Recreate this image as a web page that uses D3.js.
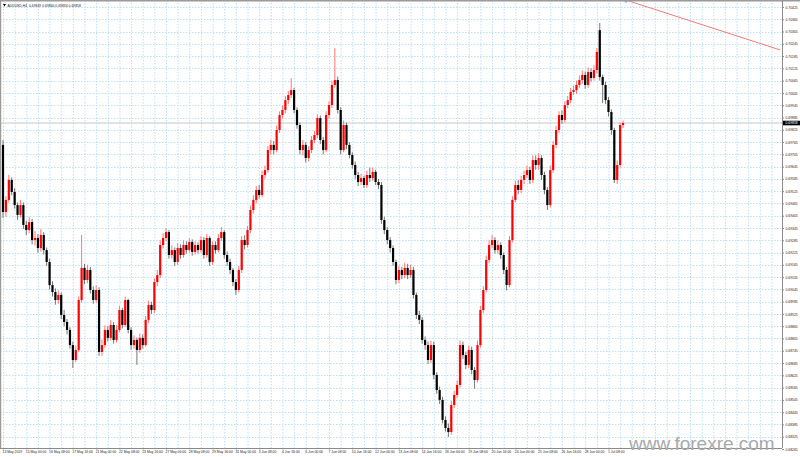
<!DOCTYPE html>
<html><head><meta charset="utf-8">
<script src="https://cdn.jsdelivr.net/npm/d3@7"></script>
<style>body{margin:0;background:#fff;overflow:hidden}svg{display:block}</style>
</head><body>
<svg id="chart" width="800" height="457"></svg>
<script>
const titleText = "AUDUSD,H4  0.69849 0.69860 0.69834 0.69858";
const timeLabels = ["13 May 2019","15 May 00:00","16 May 08:00","17 May 16:00","21 May 00:00","22 May 08:00","23 May 16:00","27 May 00:00","28 May 08:00","29 May 16:00","31 May 00:00","3 Jun 08:00","4 Jun 16:00","6 Jun 00:00","7 Jun 08:00","10 Jun 16:00","12 Jun 00:00","13 Jun 08:00","14 Jun 16:00","18 Jun 00:00","19 Jun 08:00","20 Jun 16:00","24 Jun 00:00","25 Jun 08:00","26 Jun 16:00","28 Jun 00:00","1 Jul 08:00"];
const priceTicks = [0.70425,0.70365,0.70305,0.70245,0.70185,0.70125,0.70065,0.70005,0.69945,0.69885,0.69825,0.69765,0.69705,0.69645,0.69585,0.69525,0.69465,0.69405,0.69345,0.69285,0.69225,0.69165,0.69105,0.69045,0.68985,0.68925,0.68865,0.68805,0.68745,0.68685,0.68625,0.68565,0.68505,0.68445,0.68385,0.68325,0.68265];
const lastPrice = 0.69858;
const open = [0.69751,0.69423,0.69482,0.69580,0.69521,0.69457,0.69409,0.69457,0.69360,0.69335,
0.69374,0.69286,0.69296,0.69247,0.69311,0.69237,0.69179,0.69066,0.69032,0.68993,
0.69018,0.68920,0.68886,0.68847,0.68773,0.68700,0.68749,0.68993,0.69150,0.69091,
0.69140,0.69042,0.68993,0.69042,0.68739,0.68773,0.68847,0.68808,0.68871,0.68798,
0.68847,0.68944,0.68871,0.68993,0.68847,0.68773,0.68798,0.68749,0.68808,0.68773,
0.68896,0.68969,0.68944,0.69081,0.69115,0.69262,0.69296,0.69325,0.69213,0.69237,
0.69179,0.69247,0.69213,0.69262,0.69237,0.69277,0.69228,0.69262,0.69237,0.69286,
0.69213,0.69296,0.69179,0.69262,0.69237,0.69296,0.69325,0.69213,0.69179,0.69140,
0.69081,0.69042,0.69140,0.69286,0.69262,0.69335,0.69433,0.69482,0.69531,0.69506,
0.69604,0.69628,0.69726,0.69751,0.69726,0.69824,0.69897,0.69922,0.69970,0.69995,
0.70019,0.69922,0.69848,0.69726,0.69751,0.69687,0.69726,0.69775,0.69799,0.69882,
0.69775,0.69726,0.69897,0.69946,0.70044,0.70068,0.69922,0.69726,0.69848,0.69751,
0.69702,0.69653,0.69604,0.69570,0.69589,0.69555,0.69604,0.69589,0.69619,0.69570,
0.69555,0.69384,0.69335,0.69286,0.69247,0.69179,0.69091,0.69140,0.69115,0.69150,
0.69115,0.69140,0.69018,0.68920,0.68896,0.68798,0.68773,0.68700,0.68773,0.68627,
0.68553,0.68505,0.68407,0.68368,0.68348,0.68480,0.68529,0.68578,0.68773,0.68724,
0.68676,0.68749,0.68651,0.68602,0.68773,0.68944,0.69042,0.69189,0.69262,0.69286,
0.69237,0.69262,0.69213,0.69140,0.69066,0.69286,0.69482,0.69555,0.69531,0.69580,
0.69604,0.69628,0.69580,0.69677,0.69653,0.69687,0.69604,0.69531,0.69457,0.69628,
0.69751,0.69824,0.69897,0.69873,0.69946,0.69970,0.70010,0.70019,0.70044,0.70068,
0.70093,0.70044,0.70107,0.70078,0.70117,0.70312,0.70083,0.70044,0.69970,0.69912,
0.69824,0.69580,0.69653,0.69848];
const high = [0.69775,0.69500,0.69605,0.69592,0.69540,0.69470,0.69482,0.69470,0.69380,0.69400,
0.69390,0.69330,0.69315,0.69340,0.69325,0.69250,0.69195,0.69085,0.69050,0.69040,
0.69030,0.68945,0.68900,0.68860,0.68790,0.68770,0.69010,0.69311,0.69170,0.69165,
0.69155,0.69060,0.69065,0.69055,0.68800,0.68870,0.68865,0.68895,0.68885,0.68870,
0.68965,0.68955,0.69010,0.69000,0.68860,0.68820,0.68810,0.68830,0.68825,0.68915,
0.68990,0.68985,0.69100,0.69140,0.69285,0.69320,0.69345,0.69335,0.69260,0.69250,
0.69270,0.69265,0.69285,0.69280,0.69295,0.69290,0.69280,0.69275,0.69305,0.69300,
0.69315,0.69305,0.69280,0.69280,0.69315,0.69350,0.69335,0.69230,0.69195,0.69150,
0.69095,0.69160,0.69305,0.69310,0.69355,0.69455,0.69505,0.69550,0.69555,0.69625,
0.69650,0.69745,0.69775,0.69770,0.69845,0.69915,0.69945,0.69990,0.70015,0.70078,
0.70030,0.69935,0.69860,0.69775,0.69765,0.69745,0.69795,0.69820,0.69900,0.69895,
0.69790,0.69915,0.69965,0.70065,0.70224,0.70085,0.69935,0.69870,0.69860,0.69765,
0.69715,0.69670,0.69620,0.69610,0.69600,0.69625,0.69640,0.69640,0.69630,0.69585,
0.69570,0.69400,0.69350,0.69300,0.69260,0.69190,0.69160,0.69155,0.69175,0.69170,
0.69165,0.69155,0.69030,0.68940,0.68910,0.68815,0.68790,0.68795,0.68790,0.68640,
0.68570,0.68520,0.68425,0.68390,0.68500,0.68550,0.68600,0.68795,0.68790,0.68740,
0.68770,0.68765,0.68665,0.68795,0.68965,0.69060,0.69210,0.69285,0.69310,0.69300,
0.69285,0.69275,0.69225,0.69155,0.69305,0.69500,0.69575,0.69580,0.69600,0.69625,
0.69650,0.69645,0.69700,0.69700,0.69710,0.69700,0.69620,0.69545,0.69650,0.69770,
0.69845,0.69915,0.69920,0.69965,0.69990,0.70030,0.70040,0.70065,0.70090,0.70115,
0.70110,0.70130,0.70125,0.70140,0.70225,0.70347,0.70095,0.70060,0.69985,0.69925,
0.69835,0.69675,0.69860,0.69870];
const low = [0.69395,0.69400,0.69470,0.69505,0.69440,0.69385,0.69395,0.69340,0.69310,0.69320,
0.69265,0.69260,0.69225,0.69230,0.69215,0.69160,0.69045,0.69010,0.68970,0.68975,
0.68900,0.68865,0.68825,0.68755,0.68661,0.68690,0.68740,0.68980,0.69070,0.69075,
0.69025,0.68975,0.68980,0.68720,0.68720,0.68760,0.68790,0.68795,0.68780,0.68785,
0.68835,0.68855,0.68860,0.68830,0.68750,0.68755,0.68676,0.68735,0.68755,0.68765,
0.68880,0.68925,0.68930,0.69060,0.69100,0.69245,0.69280,0.69195,0.69195,0.69160,
0.69165,0.69195,0.69200,0.69220,0.69225,0.69210,0.69215,0.69220,0.69225,0.69195,
0.69200,0.69160,0.69165,0.69220,0.69225,0.69280,0.69195,0.69160,0.69120,0.69060,
0.69018,0.69030,0.69125,0.69240,0.69250,0.69320,0.69415,0.69465,0.69490,0.69495,
0.69585,0.69615,0.69705,0.69705,0.69715,0.69810,0.69880,0.69905,0.69950,0.69980,
0.69905,0.69830,0.69705,0.69700,0.69665,0.69670,0.69710,0.69760,0.69785,0.69755,
0.69705,0.69715,0.69880,0.69930,0.70030,0.69905,0.69705,0.69715,0.69730,0.69685,
0.69635,0.69585,0.69550,0.69555,0.69540,0.69540,0.69570,0.69575,0.69555,0.69535,
0.69365,0.69315,0.69265,0.69225,0.69160,0.69070,0.69075,0.69095,0.69100,0.69095,
0.69100,0.69000,0.68900,0.68875,0.68780,0.68750,0.68680,0.68685,0.68605,0.68535,
0.68485,0.68390,0.68350,0.68324,0.68335,0.68465,0.68515,0.68565,0.68705,0.68655,
0.68660,0.68630,0.68560,0.68590,0.68760,0.68930,0.69030,0.69175,0.69245,0.69220,
0.69220,0.69195,0.69120,0.69040,0.69055,0.69275,0.69470,0.69510,0.69515,0.69560,
0.69590,0.69560,0.69565,0.69630,0.69630,0.69580,0.69510,0.69433,0.69445,0.69615,
0.69735,0.69810,0.69855,0.69860,0.69930,0.69955,0.69995,0.70000,0.70030,0.70050,
0.70025,0.70030,0.70060,0.70065,0.70100,0.70065,0.69955,0.69950,0.69890,0.69800,
0.69565,0.69560,0.69640,0.69834];
const close = [0.69423,0.69482,0.69580,0.69521,0.69457,0.69409,0.69457,0.69360,0.69335,0.69374,
0.69286,0.69296,0.69247,0.69311,0.69237,0.69179,0.69066,0.69032,0.68993,0.69018,
0.68920,0.68886,0.68847,0.68773,0.68700,0.68749,0.68993,0.69150,0.69091,0.69140,
0.69042,0.68993,0.69042,0.68739,0.68773,0.68847,0.68808,0.68871,0.68798,0.68847,
0.68944,0.68871,0.68993,0.68847,0.68773,0.68798,0.68749,0.68808,0.68773,0.68896,
0.68969,0.68944,0.69081,0.69115,0.69262,0.69296,0.69325,0.69213,0.69237,0.69179,
0.69247,0.69213,0.69262,0.69237,0.69277,0.69228,0.69262,0.69237,0.69286,0.69213,
0.69296,0.69179,0.69262,0.69237,0.69296,0.69325,0.69213,0.69179,0.69140,0.69081,
0.69042,0.69140,0.69286,0.69262,0.69335,0.69433,0.69482,0.69531,0.69506,0.69604,
0.69628,0.69726,0.69751,0.69726,0.69824,0.69897,0.69922,0.69970,0.69995,0.70019,
0.69922,0.69848,0.69726,0.69751,0.69687,0.69726,0.69775,0.69799,0.69882,0.69775,
0.69726,0.69897,0.69946,0.70044,0.70068,0.69922,0.69726,0.69848,0.69751,0.69702,
0.69653,0.69604,0.69570,0.69589,0.69555,0.69604,0.69589,0.69619,0.69570,0.69555,
0.69384,0.69335,0.69286,0.69247,0.69179,0.69091,0.69140,0.69115,0.69150,0.69115,
0.69140,0.69018,0.68920,0.68896,0.68798,0.68773,0.68700,0.68773,0.68627,0.68553,
0.68505,0.68407,0.68368,0.68348,0.68480,0.68529,0.68578,0.68773,0.68724,0.68676,
0.68749,0.68651,0.68602,0.68773,0.68944,0.69042,0.69189,0.69262,0.69286,0.69237,
0.69262,0.69213,0.69140,0.69066,0.69286,0.69482,0.69555,0.69531,0.69580,0.69604,
0.69628,0.69580,0.69677,0.69653,0.69687,0.69604,0.69531,0.69457,0.69628,0.69751,
0.69824,0.69897,0.69873,0.69946,0.69970,0.70010,0.70019,0.70044,0.70068,0.70093,
0.70044,0.70107,0.70078,0.70117,0.70205,0.70083,0.70044,0.69970,0.69912,0.69824,
0.69580,0.69653,0.69848,0.69858];
const trendBars = [214, 267];
const trendPrices = [0.70459, 0.70215];
const watermark = "www.forexre.com";

const svg = d3.select("#chart");
const plotR = 782, plotB = 448;
const barStep = 2.911;
const x = d3.scaleLinear().domain([0, 1]).range([3, 3 + barStep]);
const y = d3.scaleLinear().domain([0.68265, 0.70425]).range([449, 7]);

svg.append("rect").attr("width",800).attr("height",457).attr("fill","#fff");
svg.append("defs").append("clipPath").attr("id","plot").append("rect")
  .attr("x",0).attr("y",0).attr("width",plotR).attr("height",plotB);

const grid = svg.append("g").attr("clip-path","url(#plot)");
const vIdx = d3.range(0, 280, 4).filter(i => x(i) < plotR);
grid.selectAll("line.v").data(vIdx).join("line")
  .attr("x1",d=>x(d)+0.5).attr("x2",d=>x(d)+0.5).attr("y1",0).attr("y2",plotB)
  .attr("stroke","#bfdff4").attr("stroke-width",1).attr("stroke-dasharray","1.5,1.5");
grid.selectAll("line.h").data(priceTicks).join("line")
  .attr("x1",0).attr("x2",plotR).attr("y1",d=>Math.round(y(d))+0.5).attr("y2",d=>Math.round(y(d))+0.5)
  .attr("stroke","#bfdff4").attr("stroke-width",1).attr("stroke-dasharray","1.5,1.5");

grid.append("line").attr("x1",0).attr("x2",plotR)
  .attr("y1",y(lastPrice)).attr("y2",y(lastPrice))
  .attr("stroke","#c8c8c8").attr("stroke-width",1);

grid.append("line")
  .attr("x1",x(trendBars[0])).attr("y1",y(trendPrices[0]))
  .attr("x2",x(trendBars[1])).attr("y2",y(trendPrices[1]))
  .attr("stroke","#f47a7a").attr("stroke-width",1);
svg.append("circle").attr("cx",x(trendBars[0])).attr("cy",y(trendPrices[0])+1.5).attr("r",1.3).attr("fill","#7ab8e8");

const candles = svg.append("g").attr("clip-path","url(#plot)");
const idx = d3.range(close.length);
candles.selectAll("line.w").data(idx).join("line")
  .attr("x1",i=>x(i)).attr("x2",i=>x(i))
  .attr("y1",i=>y(high[i])).attr("y2",i=>y(low[i]))
  .attr("stroke",i=>close[i]>=open[i]?"#f66":"#666").attr("stroke-width",0.9);
candles.selectAll("rect.b").data(idx).join("rect")
  .attr("x",i=>x(i)-1.1).attr("width",2.2)
  .attr("y",i=>y(Math.max(open[i],close[i])))
  .attr("height",i=>Math.max(0.8, Math.abs(y(open[i])-y(close[i]))))
  .attr("fill",i=>close[i]>=open[i]?"#f00":"#000");

svg.append("rect").attr("x",0).attr("y",0).attr("width",800).attr("height",1.5).attr("fill","#9a9a9a");
svg.append("rect").attr("x",0).attr("y",0).attr("width",1.2).attr("height",plotB).attr("fill","#9a9a9a");

const yAxis = d3.axisRight(y).tickValues(priceTicks).tickFormat(d3.format(".5f")).tickSize(2).tickPadding(1.5);
const ya = svg.append("g").attr("transform",`translate(${plotR},0)`).call(yAxis);
ya.select(".domain").attr("stroke","#8a8a8a").attr("d",`M0.5,0V${plotB}`);
ya.selectAll(".tick line").attr("stroke","#8a8a8a");
ya.selectAll("text").attr("font-family","Liberation Sans, Arial").attr("font-size","3.4px").attr("fill","#222");

const tickIdx = timeLabels.map((_, k) => k * 8);
const xAxis = d3.axisBottom(x).tickValues(tickIdx).tickFormat((d,k)=>timeLabels[k]).tickSize(1.5).tickPadding(1);
const xa = svg.append("g").attr("transform",`translate(0,${plotB})`).call(xAxis);
xa.select(".domain").attr("stroke","#8a8a8a").attr("d",`M0,0.5H${plotR}`);
xa.selectAll(".tick line").attr("stroke","#8a8a8a");
xa.selectAll("text").attr("text-anchor","start").attr("dx","-1")
  .attr("font-family","Liberation Sans, Arial").attr("font-size","3.4px").attr("fill","#222");

const by = y(lastPrice);
svg.append("rect").attr("x",plotR+1).attr("y",by-2.3).attr("width",17).attr("height",4.6).attr("fill","#000");
svg.append("text").attr("x",plotR+3.5).attr("y",by+1.2).text(d3.format(".5f")(lastPrice))
  .attr("font-family","Liberation Sans, Arial").attr("font-size","3.4px").attr("fill","#fff");

svg.append("path").attr("d","M3,4 L6,4 L4.5,6.5 Z").attr("fill","#000");
svg.append("text").attr("x",7.5).attr("y",6.6).text(titleText)
  .attr("font-family","Liberation Sans, Arial").attr("font-size","3.4px").attr("fill","#222").attr("xml:space","preserve");

svg.append("text").attr("x",629).attr("y",449.5).text(watermark)
  .attr("font-family","Liberation Sans, Arial").attr("font-size","19px").attr("fill","#a9a9a9");
</script>
</body></html>
